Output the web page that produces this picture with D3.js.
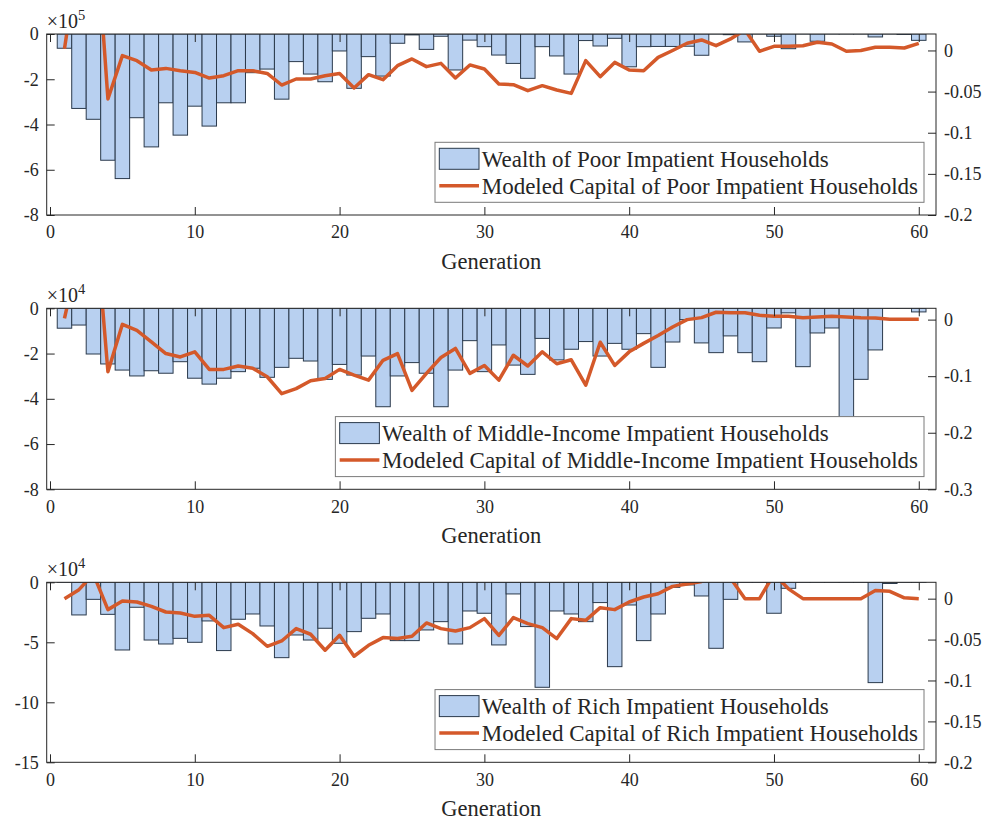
<!DOCTYPE html>
<html>
<head>
<meta charset="utf-8">
<script src="https://cdn.jsdelivr.net/npm/d3@7"></script>
<style>
  body { margin: 0; background: #fff; }
  svg text { font-family: "Liberation Serif", "DejaVu Serif", serif; fill: #262626; }
</style>
</head>
<body>
<script>
// Data
const generations = [1, 2, 3, 4, 5, 6, 7, 8, 9, 10, 11, 12, 13, 14, 15, 16, 17, 18, 19, 20,
  21, 22, 23, 24, 25, 26, 27, 28, 29, 30, 31, 32, 33, 34, 35, 36, 37, 38, 39, 40,
  41, 42, 43, 44, 45, 46, 47, 48, 49, 50, 51, 52, 53, 54, 55, 56, 57, 58, 59, 60];
const xTicks = [0, 10, 20, 30, 40, 50, 60];

// poor, x10^5 (left) / capital (right)
const poorWealth = [-0.63, -3.29, -3.77, -5.58, -6.39, -3.70, -4.99, -3.04, -4.47, -3.19,
  -4.07, -3.04, -3.04, -1.71, -1.55, -2.88, -1.22, -1.77, -2.11, -0.75,
  -2.40, -1.00, -1.86, -0.41, -0.04, -0.68, -0.10, -1.59, -0.27, -0.56,
  -0.93, -1.30, -1.96, -0.56, -0.97, -1.77, -0.29, -0.53, -0.19, -1.45,
  -0.56, -0.55, -0.55, -0.54, -0.94, 0.05, -0.03, -0.35, 0.05, -0.10,
  -0.65, 0.05, -0.32, 0.05, 0.05, 0.05, -0.13, 0.05, -0.02, -0.28];
const poorCapital = [0.002, 0.12, 0.19, -0.059, -0.0063, -0.0124, -0.0237, -0.0218, -0.0246, -0.0267,
  -0.0335, -0.0307, -0.0246, -0.0246, -0.0279, -0.042, -0.0347, -0.0347, -0.0307, -0.0279,
  -0.0456, -0.0294, -0.0355, -0.0185, -0.0103, -0.0197, -0.0157, -0.0335, -0.0176, -0.0225,
  -0.0408, -0.0416, -0.0489, -0.0428, -0.0481, -0.0522, -0.0124, -0.0319, -0.0145, -0.0237,
  -0.0246, -0.0084, 0.0, 0.0087, 0.0128, 0.0058, 0.014, 0.025, -0.001, 0.005,
  0.005, 0.0058, 0.0099, 0.0079, -0.001, 0.0, 0.0038, 0.0038, 0.003, 0.0087];
const poorLeftTicks = [0, -2, -4, -6, -8];
const poorRightTicks = [0, -0.05, -0.1, -0.15, -0.2];

// middle-income, x10^4
const middleWealth = [-0.88, -0.74, -2.02, -2.46, -2.73, -2.99, -2.76, -2.87, -2.36, -3.09,
  -3.35, -3.09, -2.80, -2.65, -3.05, -2.61, -2.21, -2.33, -3.14, -2.48,
  -2.95, -2.11, -4.35, -2.99, -2.40, -2.87, -4.35, -2.73, -1.43, -2.80,
  -1.62, -2.51, -2.92, -1.33, -2.28, -1.81, -1.47, -2.11, -1.55, -1.81,
  -1.12, -2.61, -1.49, -0.50, -1.53, -1.96, -1.22, -1.96, -2.36, -0.87,
  -0.20, -2.58, -1.09, -0.87, -5.20, -3.14, -1.84, 0.05, 0.05, -0.16];
const middleCapital = [0.002, 0.118, 0.217, -0.092, -0.0083, -0.019, -0.0395, -0.060, -0.066, -0.057,
  -0.088, -0.088, -0.082, -0.086, -0.101, -0.131, -0.122, -0.108, -0.104, -0.088,
  -0.098, -0.107, -0.072, -0.060, -0.125, -0.095, -0.067, -0.051, -0.095, -0.081,
  -0.107, -0.063, -0.082, -0.057, -0.078, -0.071, -0.116, -0.040, -0.081, -0.057,
  -0.042, -0.028, -0.013, 0.0, 0.0035, 0.013, 0.012, 0.012, 0.0076, 0.0058,
  0.0058, 0.0035, 0.0047, 0.0058, 0.0047, 0.0035, 0.003, 0.0006, 0.0006, 0.0006];
const middleLeftTicks = [0, -2, -4, -6, -8];
const middleRightTicks = [0, -0.1, -0.2, -0.3];

// rich, x10^4
const richWealth = [0.1, -2.72, -1.42, -2.67, -5.64, -2.08, -4.81, -5.14, -4.67, -5.00,
  -3.22, -5.69, -3.08, -2.64, -3.64, -6.28, -4.39, -4.81, -3.83, -5.08,
  -4.11, -3.00, -2.64, -4.86, -4.86, -3.97, -3.28, -5.14, -2.39, -2.58,
  -5.22, -0.97, -3.69, -8.75, -2.39, -2.64, -3.28, -1.69, -7.03, -1.89,
  -4.86, -2.64, -0.42, -0.22, -1.14, -5.50, -1.42, 0.1, 0.1, -2.58,
  -0.50, 0.1, 0.1, 0.1, 0.1, 0.1, -8.36, -0.10, 0.1, 0.1];
const richCapital = [0.0, 0.011, 0.03, -0.0134, -0.0029, -0.0041, -0.0094, -0.0163, -0.0175, -0.0216,
  -0.0204, -0.0354, -0.0313, -0.0427, -0.0582, -0.0517, -0.0366, -0.0435, -0.063, -0.0448,
  -0.0704, -0.057, -0.0476, -0.0488, -0.046, -0.0297, -0.0366, -0.0395, -0.0354, -0.0244,
  -0.0448, -0.0232, -0.0305, -0.0354, -0.0488, -0.0244, -0.0265, -0.011, -0.0134, -0.0041,
  0.002, 0.006, 0.015, 0.018, 0.021, 0.03, 0.025, 0.0, 0.0, 0.03,
  0.012, 0.0, 0.0, 0.0, 0.0, 0.0, 0.01, 0.009, 0.001, 0.0];
const richLeftTicks = [0, -5, -10, -15];
const richRightTicks = [0, -0.05, -0.1, -0.15, -0.2];

const legendLabels = [
  ['Wealth of Poor Impatient Households', 'Modeled Capital of Poor Impatient Households'],
  ['Wealth of Middle-Income Impatient Households', 'Modeled Capital of Middle-Income Impatient Households'],
  ['Wealth of Rich Impatient Households', 'Modeled Capital of Rich Impatient Households'],
];

// Styling
const axisColor = '#262626';
const barFill = '#b8d0f0';
const barEdge = '#2b3a4c';
const lineColor = '#d4592a';
const tickFont = 18;
const labelFont = 22.5;
const legendFont = 23;

const width = 990;
const height = 823;

const svg = d3.select('body')
  .append('svg')
  .attr('width', width)
  .attr('height', height);

const x = d3.scaleLinear().domain([-0.228, 61.19]).range([46.7, 936]);
const [x0, x1] = x.range();

const panels = [
  { top: 34, bottom: 215, wealth: poorWealth, capital: poorCapital, leftDomain: [-8, 0], rightDomain: [-0.2, 0.02], leftTicks: poorLeftTicks, rightTicks: poorRightTicks, exp: '5' },
  { top: 308.3, bottom: 489.3, wealth: middleWealth, capital: middleCapital, leftDomain: [-8, 0], rightDomain: [-0.3, 0.02], leftTicks: middleLeftTicks, rightTicks: middleRightTicks, exp: '4' },
  { top: 582.3, bottom: 762.3, wealth: richWealth, capital: richCapital, leftDomain: [-15, 0], rightDomain: [-0.2, 0.02], leftTicks: richLeftTicks, rightTicks: richRightTicks, exp: '4' },
];

const styleAxis = (g) => {
  g.select('.domain').remove();
  g.selectAll('line').attr('stroke', axisColor);
  g.selectAll('text')
    .attr('fill', axisColor)
    .style('font-size', `${tickFont}px`)
    .style('font-family', '"Liberation Serif", serif');
};

panels.forEach((p, k) => {
  const yL = d3.scaleLinear().domain(p.leftDomain).range([p.bottom, p.top]);
  const yR = d3.scaleLinear().domain(p.rightDomain).range([p.bottom, p.top]);
  const g = svg.append('g').attr('class', `panel-${k}`);

  g.append('clipPath')
    .attr('id', `clip-${k}`)
    .append('rect')
    .attr('x', x0)
    .attr('y', p.top)
    .attr('width', x1 - x0)
    .attr('height', p.bottom - p.top);

  const plot = g.append('g').attr('clip-path', `url(#clip-${k})`);

  // bars (left axis)
  plot.selectAll('rect.bar')
    .data(generations)
    .join('rect')
    .attr('class', 'bar')
    .attr('x', d => x(d - 0.5))
    .attr('width', d => x(d + 0.5) - x(d - 0.5))
    .attr('y', (d, i) => Math.min(yL(p.wealth[i]), yL(0)))
    .attr('height', (d, i) => Math.abs(yL(p.wealth[i]) - yL(0)))
    .attr('fill', barFill)
    .attr('stroke', barEdge)
    .attr('stroke-width', 1);

  // modeled capital (right axis)
  plot.append('path')
    .datum(generations)
    .attr('fill', 'none')
    .attr('stroke', lineColor)
    .attr('stroke-width', 3.5)
    .attr('stroke-linejoin', 'round')
    .attr('d', d3.line().x(d => x(d)).y((d, i) => yR(p.capital[i])));

  // axes, ticks pointing inward
  g.append('g')
    .attr('transform', `translate(0,${p.bottom})`)
    .call(d3.axisBottom(x).tickValues(xTicks).tickSize(-8).tickPadding(10.5).tickFormat(d => String(d)))
    .call(styleAxis);
  g.append('g')
    .attr('transform', `translate(0,${p.top})`)
    .call(d3.axisTop(x).tickValues(xTicks).tickSize(-8).tickFormat(''))
    .call(styleAxis);
  g.append('g')
    .attr('transform', `translate(${x0},0)`)
    .call(d3.axisLeft(yL).tickValues(p.leftTicks).tickSize(-8).tickPadding(8).tickFormat(d => String(d)))
    .call(styleAxis);
  g.append('g')
    .attr('transform', `translate(${x1},0)`)
    .call(d3.axisRight(yR).tickValues(p.rightTicks).tickSize(-8).tickPadding(8).tickFormat(d => String(d)))
    .call(styleAxis);

  g.append('rect')
    .attr('x', x0)
    .attr('y', p.top)
    .attr('width', x1 - x0)
    .attr('height', p.bottom - p.top)
    .attr('fill', 'none')
    .attr('stroke', axisColor)
    .attr('stroke-width', 1);

  // exponent label
  const expText = g.append('text')
    .attr('x', x0)
    .attr('y', p.top - 6)
    .style('font-size', '20px')
    .text('\u00d710');
  expText.append('tspan')
    .attr('dy', -8)
    .style('font-size', '14.5px')
    .text(p.exp);

  // x label
  g.append('text')
    .attr('x', (x0 + x1) / 2)
    .attr('y', p.bottom + 54)
    .attr('text-anchor', 'middle')
    .style('font-size', `${labelFont}px`)
    .text('Generation');

  // legend
  const leg = g.append('g');
  const box = leg.append('rect')
    .attr('fill', '#fff')
    .attr('stroke', '#7a7a7a')
    .attr('stroke-width', 1);
  const texts = legendLabels[k].map((label, j) => leg.append('text')
    .attr('y', j === 0 ? 16.5 : 43.5)
    .attr('dy', '0.35em')
    .style('font-size', `${legendFont}px`)
    .text(label));
  const textW = d3.max(texts, t => t.node().getComputedTextLength());
  const boxW = 46.7 + textW + 6;
  const boxH = 60;
  const boxRight = x1 - 12;
  const boxTop = p.bottom - 12.7 - boxH;
  leg.attr('transform', `translate(${boxRight - boxW},${boxTop})`);
  box.attr('width', boxW).attr('height', boxH);
  texts.forEach(t => t.attr('x', 46.7));
  leg.append('rect')
    .attr('x', 4.3)
    .attr('y', 6)
    .attr('width', 39.7)
    .attr('height', 21)
    .attr('fill', barFill)
    .attr('stroke', barEdge)
    .attr('stroke-width', 1);
  leg.append('line')
    .attr('x1', 4.3)
    .attr('x2', 44)
    .attr('y1', 43.5)
    .attr('y2', 43.5)
    .attr('stroke', lineColor)
    .attr('stroke-width', 3.5);
});
</script>
</body>
</html>
